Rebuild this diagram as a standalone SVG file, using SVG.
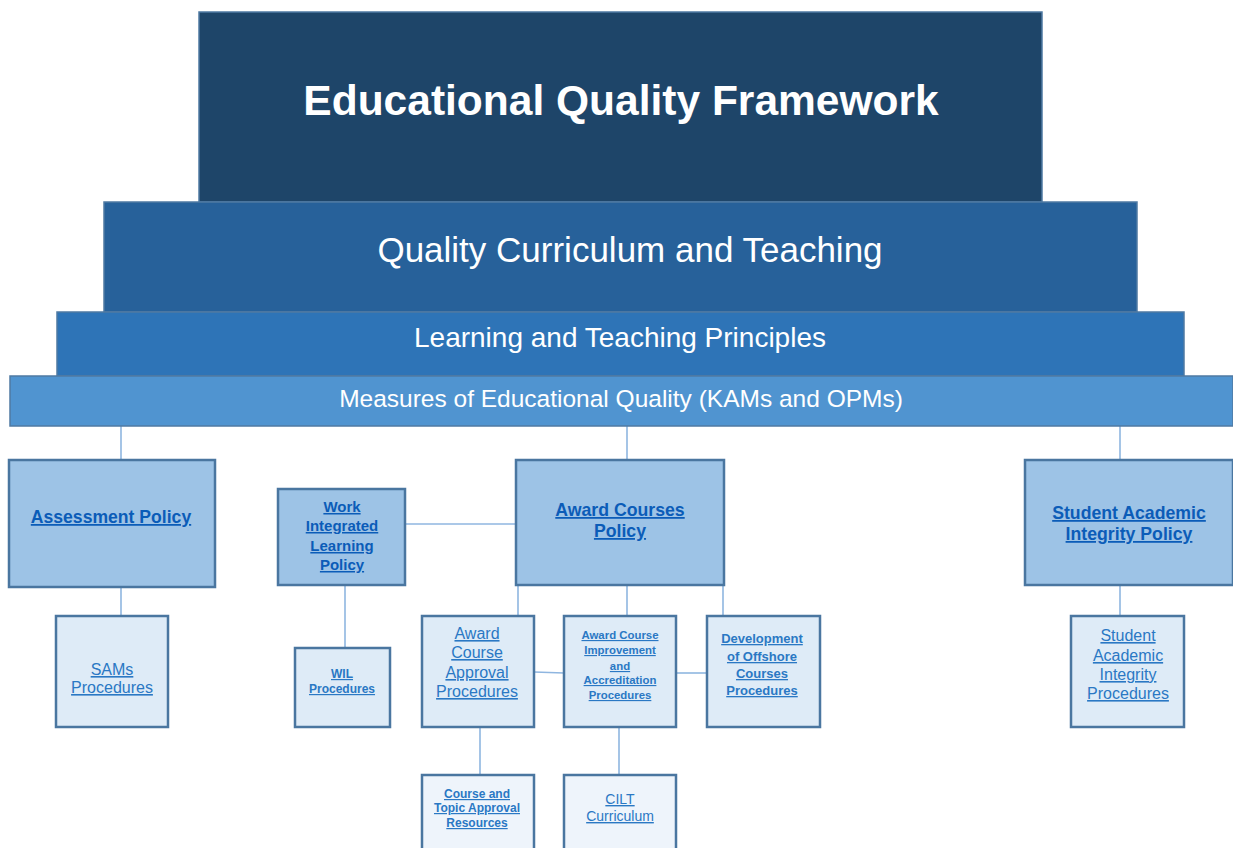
<svg xmlns="http://www.w3.org/2000/svg" width="1233" height="848" viewBox="0 0 1233 848">
<style>
.tier{stroke:#4f7aa3;stroke-width:1.5}
.pol{fill:#9dc3e6;stroke:#4a76a0;stroke-width:2.5}
.proc{fill:#deebf7;stroke:#4a76a0;stroke-width:2.5}
.res{fill:#eef4fb;stroke:#4a76a0;stroke-width:2.5}
.wt{fill:#ffffff;font-family:"Liberation Sans",Arial,sans-serif;text-anchor:middle}
.pl{fill:#0b5cb8;font-family:"Liberation Sans",Arial,sans-serif;font-weight:bold;text-anchor:middle;text-decoration:underline}
.pr{fill:#2a78c4;font-family:"Liberation Sans",Arial,sans-serif;text-anchor:middle;text-decoration:underline}
.b{font-weight:bold}
#connectors line{stroke:#8fb6e0;stroke-width:1.6}
</style>
<rect width="1233" height="848" fill="#ffffff"/>
<g id="connectors">
<line x1="121" y1="426" x2="121" y2="460"/>
<line x1="627" y1="426" x2="627" y2="460"/>
<line x1="1120" y1="426" x2="1120" y2="460"/>
<line x1="121" y1="587" x2="121" y2="616"/>
<line x1="1120" y1="585" x2="1120" y2="616"/>
<line x1="405" y1="524" x2="516" y2="524"/>
<line x1="345" y1="585" x2="345" y2="648"/>
<line x1="518" y1="585" x2="518" y2="616"/>
<line x1="627" y1="585" x2="627" y2="616"/>
<line x1="723" y1="585" x2="723" y2="616"/>
<line x1="534" y1="672" x2="564" y2="673"/>
<line x1="676" y1="673" x2="707" y2="673"/>
<line x1="480" y1="727" x2="480" y2="775"/>
<line x1="619" y1="727" x2="619" y2="775"/>
</g>
<g id="framework">
<rect class="tier" x="199" y="12" width="843" height="190" fill="#1e4569"/>
<text class="wt b" x="621" y="115" font-size="42.5">Educational Quality Framework</text>
</g>
<g id="curriculum">
<rect class="tier" x="104" y="202" width="1033" height="110" fill="#27619a"/>
<text class="wt" x="630" y="262" font-size="35">Quality Curriculum and Teaching</text>
</g>
<g id="principles">
<rect class="tier" x="57" y="312" width="1127" height="64" fill="#2e74b7"/>
<text class="wt" x="620" y="347" font-size="28">Learning and Teaching Principles</text>
</g>
<g id="measures">
<rect class="tier" x="10" y="376" width="1223" height="50" fill="#5094d0"/>
<text class="wt" x="621" y="407" font-size="24.5">Measures of Educational Quality (KAMs and OPMs)</text>
</g>
<g id="assessment-policy">
<rect class="pol" x="9" y="460" width="206" height="127"/>
<text class="pl" x="111" y="523" font-size="17.6">Assessment Policy</text>
</g>
<g id="wil-policy">
<rect class="pol" x="278" y="489" width="127" height="96"/>
<text class="pl" font-size="15"><tspan x="342" y="512">Work</tspan><tspan x="342" y="531">Integrated</tspan><tspan x="342" y="551">Learning</tspan><tspan x="342" y="570">Policy</tspan></text>
</g>
<g id="award-courses-policy">
<rect class="pol" x="516" y="460" width="208" height="125"/>
<text class="pl" font-size="17.7"><tspan x="620" y="516">Award Courses</tspan><tspan x="620" y="537">Policy</tspan></text>
</g>
<g id="integrity-policy">
<rect class="pol" x="1025" y="460" width="208" height="125"/>
<text class="pl" font-size="17.7"><tspan x="1129" y="519">Student Academic</tspan><tspan x="1129" y="540">Integrity Policy</tspan></text>
</g>
<g id="sams-procedures">
<rect class="proc" x="56" y="616" width="112" height="111"/>
<text class="pr" font-size="16"><tspan x="112" y="675">SAMs</tspan><tspan x="112" y="693">Procedures</tspan></text>
</g>
<g id="wil-procedures">
<rect class="proc" x="295" y="648" width="95" height="79"/>
<text class="pr b" font-size="12"><tspan x="342" y="678">WIL</tspan><tspan x="342" y="693">Procedures</tspan></text>
</g>
<g id="approval-procedures">
<rect class="proc" x="422" y="616" width="112" height="111"/>
<text class="pr" font-size="16"><tspan x="477" y="639">Award</tspan><tspan x="477" y="658">Course</tspan><tspan x="477" y="678">Approval</tspan><tspan x="477" y="697">Procedures</tspan></text>
</g>
<g id="improvement-procedures">
<rect class="proc" x="564" y="616" width="112" height="111"/>
<text class="pr b" font-size="11.4"><tspan x="620" y="639">Award Course</tspan><tspan x="620" y="654">Improvement</tspan><tspan x="620" y="670">and</tspan><tspan x="620" y="684">Accreditation</tspan><tspan x="620" y="699">Procedures</tspan></text>
</g>
<g id="offshore-procedures">
<rect class="proc" x="707" y="616" width="113" height="111"/>
<text class="pr b" font-size="13"><tspan x="762" y="643">Development</tspan><tspan x="762" y="661">of Offshore</tspan><tspan x="762" y="678">Courses</tspan><tspan x="762" y="695">Procedures</tspan></text>
</g>
<g id="integrity-procedures">
<rect class="proc" x="1071" y="616" width="113" height="111"/>
<text class="pr" font-size="16"><tspan x="1128" y="641">Student</tspan><tspan x="1128" y="661">Academic</tspan><tspan x="1128" y="680">Integrity</tspan><tspan x="1128" y="699">Procedures</tspan></text>
</g>
<g id="approval-resources">
<rect class="res" x="422" y="775" width="112" height="80"/>
<text class="pr b" font-size="12"><tspan x="477" y="798">Course and</tspan><tspan x="477" y="812">Topic Approval</tspan><tspan x="477" y="827">Resources</tspan></text>
</g>
<g id="cilt-curriculum">
<rect class="res" x="564" y="775" width="112" height="80"/>
<text class="pr" font-size="14"><tspan x="620" y="804">CILT</tspan><tspan x="620" y="821">Curriculum</tspan></text>
</g>
</svg>
